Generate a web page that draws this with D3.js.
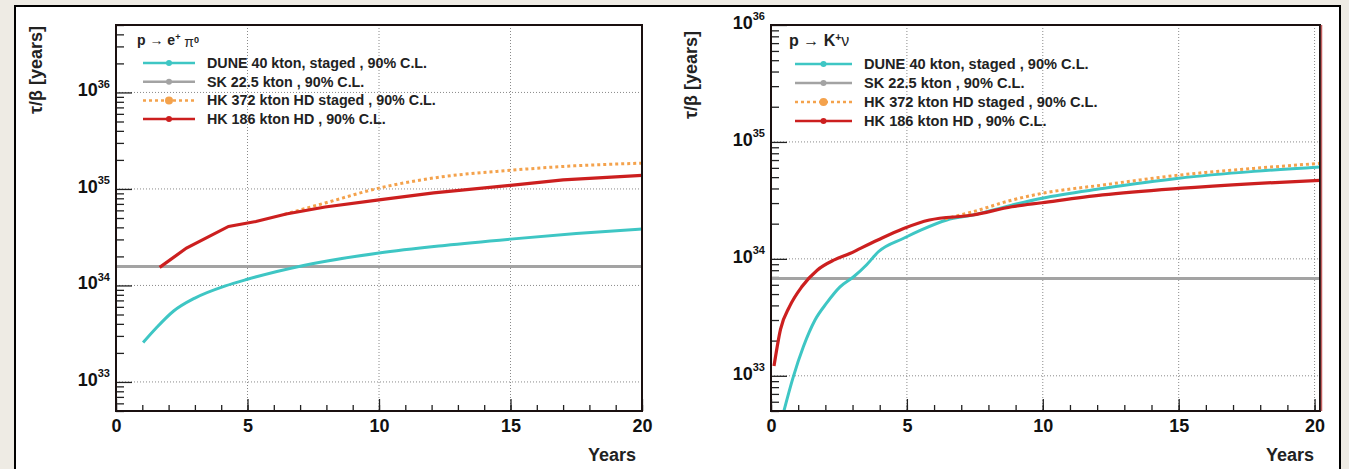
<!DOCTYPE html>
<html><head><meta charset="utf-8">
<script src="https://cdn.jsdelivr.net/npm/d3@7"></script>
<style>
body{margin:0;background:#eeebe4;}
svg{display:block;font-family:'Liberation Sans',Arial,sans-serif;font-weight:bold;}
</style></head>
<body><svg id="c" width="1349" height="469"></svg>
<script>
// ---------- data ----------
const xMajorTicks = [0, 5, 10, 15, 20];
const xMinorTicks = d3.range(0, 21, 1);
const yDecadesLeft = [1e33, 1e34, 1e35, 1e36];
const yDecadesRight = [1e33, 1e34, 1e35, 1e36];
const legendLabels = ["DUNE 40 kton, staged , 90% C.L.", "SK 22.5 kton , 90% C.L.", "HK 372 kton HD staged , 90% C.L.", "HK 186 kton HD , 90% C.L."];
const seriesColors = ["#3ec6c4", "#a3a3a3", "#f4a24c", "#cc1f1f"];

// left: p -> e+ pi0
const leftDune = [[1.03,2.56e33],[1.52,3.6e33],[2.18,5.4e33],[3.0,7.4e33],[4.16,9.9e33],[5.0,1.16e34],[7.13,1.61e34],[10,2.17e34],[12.5,2.6e34],[15,3.02e34],[17.5,3.45e34],[20,3.84e34]];
const leftSK = [[0,1.57e34],[20,1.57e34]];
const leftHK372 = [[6.4,5.45e34],[7.95,7.15e34],[10,1.02e35],[12.08,1.30e35],[15,1.56e35],[17,1.71e35],[20,1.85e35]];
const leftHK186 = [[1.66,1.54e34],[2.68,2.44e34],[4.28,4.09e34],[5.32,4.6e34],[6.47,5.5e34],[7.95,6.5e34],[10,7.7e34],[12.08,9.1e34],[15,1.09e35],[17,1.24e35],[20,1.38e35]];

// right: p -> K+ nu
const rightDune = [[0.39,4.2e32],[0.82,9.8e32],[1.19,1.77e33],[1.62,3.0e33],[2.05,4.2e33],[2.54,5.76e33],[3.03,7.0e33],[3.52,8.9e33],[3.95,1.15e34],[4.88,1.5e34],[5.51,1.76e34],[6.47,2.15e34],[7.43,2.37e34],[8.86,2.88e34],[9.97,3.3e34],[12.2,4.0e34],[15,4.9e34],[17.77,5.6e34],[20.2,6.1e34]];
const rightSK = [[0,6.8e33],[20.2,6.8e33]];
const rightHK372 = [[6.4,2.2e34],[7.43,2.53e34],[8.86,3.18e34],[9.97,3.63e34],[12.2,4.28e34],[15,5.2e34],[17.77,5.94e34],[20.2,6.56e34]];
const rightHK186 = [[0.11,1.21e33],[0.35,2.5e33],[0.68,3.9e33],[1.14,5.8e33],[1.7,8.0e33],[2.33,9.8e33],[2.9,1.11e34],[3.29,1.23e34],[3.93,1.45e34],[4.88,1.82e34],[5.83,2.15e34],[7.43,2.37e34],[8.86,2.79e34],[9.97,3.02e34],[12.2,3.52e34],[15,4.0e34],[17.77,4.4e34],[20.2,4.7e34]];

// ---------- drawing ----------
const svg = d3.select("#c");
svg.append("rect").attr("x",15).attr("y",6).attr("width",1325).attr("height",480)
  .attr("fill","#fff").attr("stroke","#000").attr("stroke-width",2);

function minorLogTicks(domain){
  const t=[]; const lo=Math.floor(Math.log10(domain[0])), hi=Math.ceil(Math.log10(domain[1]));
  for(let e=lo;e<=hi;e++) for(let m=1;m<10;m++){const v=m*Math.pow(10,e); if(v>=domain[0]*0.999&&v<=domain[1]*1.001&&m!==1) t.push(v);}
  return t;
}

function panel(cfg){
  const x = d3.scaleLinear().domain(cfg.xDomain).range([cfg.x0, cfg.x1]);
  const y = d3.scaleLog().domain(cfg.yDomain).range([cfg.y1, cfg.y0]);
  const g = svg.append("g");
  const clipId = "clip"+cfg.id;
  svg.append("clipPath").attr("id",clipId).append("rect")
    .attr("x",cfg.x0).attr("y",cfg.y0).attr("width",cfg.x1-cfg.x0).attr("height",cfg.y1-cfg.y0);

  // grid
  const grid = g.append("g").attr("stroke","#8a8a8a").attr("stroke-width",1).attr("stroke-dasharray","1,2");
  grid.selectAll(".gx").data([5,10,15,20]).join("line")
    .attr("x1",d=>x(d)).attr("x2",d=>x(d)).attr("y1",cfg.y0).attr("y2",cfg.y1);
  grid.selectAll(".gy").data(cfg.decades).join("line")
    .attr("y1",d=>y(d)).attr("y2",d=>y(d)).attr("x1",cfg.x0).attr("x2",cfg.x1);

  // x axis
  const xMinor = g.append("g").attr("transform",`translate(0,${cfg.y1})`)
    .call(d3.axisBottom(x).tickValues(xMinorTicks).tickSize(-6).tickFormat(""));
  const xMajor = g.append("g").attr("transform",`translate(0,${cfg.y1})`)
    .call(d3.axisBottom(x).tickValues(xMajorTicks).tickSize(-12).tickPadding(8).tickFormat(d3.format("d")));
  [xMinor,xMajor].forEach(a=>{a.select(".domain").remove(); a.selectAll("line").attr("stroke","#222").attr("stroke-width",1.3);});
  xMajor.selectAll("text").attr("font-size",18).attr("font-weight","bold").attr("fill","#111")
    .attr("font-family","'Liberation Sans',Arial,sans-serif").attr("dy","0.71em");

  // y axis
  const yMinor = g.append("g").attr("transform",`translate(${cfg.x0},0)`)
    .call(d3.axisLeft(y).tickValues(minorLogTicks(cfg.yDomain)).tickSize(-8).tickFormat(""));
  const yMajor = g.append("g").attr("transform",`translate(${cfg.x0},0)`)
    .call(d3.axisLeft(y).tickValues(cfg.decades).tickSize(-16).tickPadding(6).tickFormat(d=>String(Math.round(Math.log10(d)))));
  [yMinor,yMajor].forEach(a=>{a.select(".domain").remove(); a.selectAll("line").attr("stroke","#222").attr("stroke-width",1.3);});
  yMajor.selectAll("text").each(function(){
    const t=d3.select(this); const e=t.text(); t.text("");
    t.attr("font-family","'Liberation Sans',Arial,sans-serif").attr("fill","#111").attr("x",-6);
    t.append("tspan").attr("font-size",18).text("10");
    t.append("tspan").attr("font-size",11).attr("dy","-0.75em").text(e);
  });

  // series
  const line = d3.line().x(d=>x(d[0])).y(d=>y(d[1]));
  const sg = g.append("g").attr("clip-path",`url(#${clipId})`).attr("fill","none");
  sg.append("path").datum(cfg.sk).attr("d",line).attr("stroke",seriesColors[1]).attr("stroke-width",3);
  sg.append("path").datum(cfg.dune).attr("d",line.curve(d3.curveMonotoneX)).attr("stroke",seriesColors[0]).attr("stroke-width",3);
  sg.append("path").datum(cfg.hk372).attr("d",line.curve(d3.curveMonotoneX)).attr("stroke",seriesColors[2]).attr("stroke-width",3).attr("stroke-dasharray","3,3");
  sg.append("path").datum(cfg.hk186).attr("d",line.curve(cfg.redCurve)).attr("stroke",seriesColors[3]).attr("stroke-width",3.2);

  // frame
  g.append("rect").attr("x",cfg.x0).attr("y",cfg.y0).attr("width",cfg.x1-cfg.x0).attr("height",cfg.y1-cfg.y0)
    .attr("fill","none").attr("stroke","#1a1010").attr("stroke-width",2);
  if(cfg.redEdge){
    g.append("line").attr("x1",cfg.x1+1.5).attr("x2",cfg.x1+1.5).attr("y1",cfg.y0).attr("y2",cfg.y1)
      .attr("stroke","#c46060").attr("stroke-width",1.5);
  }

  // axis titles
  svg.append("text").attr("transform",`translate(${cfg.ytx},${cfg.yty}) rotate(-90)`)
    .attr("text-anchor","middle").attr("font-size",18).attr("fill","#222").text("τ/β [years]");
  svg.append("text").attr("x",cfg.x1-6).attr("y",461).attr("text-anchor","end")
    .attr("font-size",18).attr("fill","#222").text("Years");

  // legend
  const L = svg.append("g");
  L.append("text").attr("x",cfg.lx-6).attr("y",cfg.ly-18).attr("font-size",cfg.ltitleSize).attr("fill","#222")
    .selectAll("tspan").data(cfg.ltitle).join("tspan")
    .attr("font-size",d=>d.s?cfg.ltitleSize*0.65:cfg.ltitleSize).attr("dy",d=>d.dy||0)
    .attr("font-weight",d=>d.n?"normal":"bold").text(d=>d.t);
  legendLabels.forEach((lab,i)=>{
    const yy = cfg.ly + i*cfg.lstep;
    L.append("line").attr("x1",cfg.lx).attr("x2",cfg.lx+cfg.lw).attr("y1",yy).attr("y2",yy)
      .attr("stroke",seriesColors[i]).attr("stroke-width",2.5).attr("stroke-dasharray",i===2?"3,3":null);
    L.append("circle").attr("cx",cfg.lx+cfg.lw/2).attr("cy",yy).attr("r",i===2?4:3).attr("fill",seriesColors[i]);
    L.append("text").attr("x",cfg.lx+cfg.lw+12).attr("y",yy+5).attr("font-size",cfg.lfs).attr("fill","#222").text(lab);
  });
}

panel({id:"L", x0:116, x1:642, y0:25, y1:411, xDomain:[0,20], yDomain:[5e32,5e36], decades:yDecadesLeft,
  dune:leftDune, sk:leftSK, hk372:leftHK372, hk186:leftHK186, redCurve:d3.curveLinear, redEdge:false,
  ytx:42, yty:70, lx:143, ly:63, lstep:18.7, lw:52, lfs:14.3, ltitleSize:14,
  ltitle:[{t:"p → e"},{t:"+",s:true,dy:"-0.5em"},{t:" π",n:true,dy:"0.5em"},{t:"0",s:true,dy:"-0.5em"}]});

panel({id:"R", x0:771, x1:1320, y0:25, y1:411, xDomain:[0,20.2], yDomain:[5e32,1e36], decades:yDecadesRight,
  dune:rightDune, sk:rightSK, hk372:rightHK372, hk186:rightHK186, redCurve:d3.curveMonotoneX, redEdge:true,
  ytx:697, yty:75, lx:795, ly:64, lstep:19, lw:57, lfs:14.6, ltitleSize:16,
  ltitle:[{t:"p → K"},{t:"+",s:true,dy:"-0.5em"},{t:"ν",n:true,dy:"0.3em"}]});
</script></body></html>
